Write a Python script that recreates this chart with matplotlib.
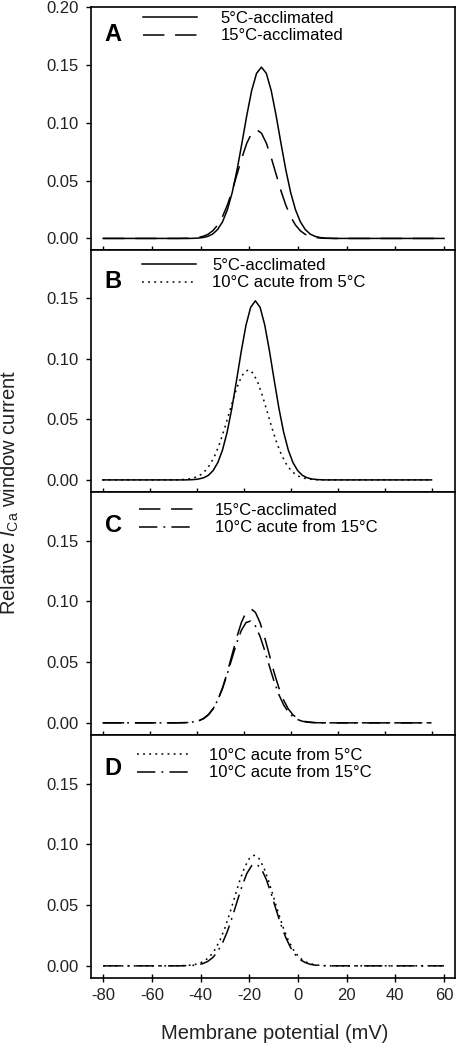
import numpy as np
import matplotlib
matplotlib.use('Agg')
import matplotlib.pyplot as plt
from matplotlib.lines import Line2D

plt.rcParams['font.family'] = ['Liberation Sans', 'DejaVu Sans']
plt.rcParams['mathtext.fontset'] = 'custom'
plt.rcParams['mathtext.rm'] = 'Liberation Sans'
plt.rcParams['mathtext.it'] = 'Liberation Sans:italic'
plt.rcParams['axes.unicode_minus'] = False

# membrane potential grids (mV)
v_odd = [-80, -49, -47, -45, -43, -41, -39, -37, -35, -33, -31, -29, -27, -25,
         -23, -21, -19, -17, -15, -13, -11, -9, -7, -5, -3, -1, 1, 3, 5, 7, 9,
         11, 13, 15, 17, 60]
v_even = [-80, -52, -50, -48, -46, -44, -42, -40, -38, -36, -34, -32, -30, -28,
          -26, -24, -22, -20, -18, -16, -14, -12, -10, -8, -6, -4, -2, 0, 2, 4,
          6, 8, 10, 12, 14, 16, 60]

# relative window current
acc5 = [0, 0, 0, 0, 0.0001, 0.0003, 0.0008, 0.0018, 0.0038, 0.0077, 0.0143,
        0.0247, 0.0397, 0.0594, 0.0825, 0.1065, 0.1279, 0.1427, 0.1480, 0.1427,
        0.1279, 0.1065, 0.0825, 0.0594, 0.0397, 0.0247, 0.0143, 0.0077, 0.0038,
        0.0018, 0.0008, 0.0003, 0.0001, 0, 0, 0]
acc15 = [0, 0, 0.0001, 0.0001, 0.0004, 0.0008, 0.0018, 0.0035, 0.0066, 0.0115,
         0.0188, 0.0288, 0.0413, 0.0556, 0.0699, 0.0824, 0.0910, 0.0940, 0.0910,
         0.0824, 0.0699, 0.0556, 0.0413, 0.0288, 0.0188, 0.0115, 0.0066, 0.0035,
         0.0018, 0.0008, 0.0004, 0.0001, 0.0001, 0, 0, 0]
acute_from15 = [0, 0, 0.0001, 0.0002, 0.0004, 0.0009, 0.0019, 0.0037, 0.0068,
                0.0117, 0.0188, 0.0283, 0.0400, 0.0529, 0.0655, 0.0760, 0.0825,
                0.0838, 0.0798, 0.0711, 0.0594, 0.0464, 0.0339, 0.0233, 0.0149,
                0.0090, 0.0050, 0.0027, 0.0013, 0.0006, 0.0003, 0.0001, 0, 0, 0, 0]
acute_from5 = [0, 0, 0, 0.0001, 0.0003, 0.0006, 0.0013, 0.0025, 0.0046, 0.0082,
               0.0136, 0.0212, 0.0312, 0.0433, 0.0565, 0.0696, 0.0808, 0.0883,
               0.0910, 0.0883, 0.0808, 0.0696, 0.0565, 0.0433, 0.0312, 0.0212,
               0.0136, 0.0082, 0.0046, 0.0025, 0.0013, 0.0006, 0.0003, 0.0001,
               0, 0, 0]

lab_acc5 = '5°C-acclimated'
lab_acc15 = '15°C-acclimated'
lab_ac5 = '10°C acute from 5°C'
lab_ac15 = '10°C acute from 15°C'

sty = {
    lab_acc5: dict(ls='-'),
    lab_acc15: dict(dashes=(14, 7)),
    lab_ac5: dict(dashes=(1.2, 2.8)),
    lab_ac15: dict(dashes=(12, 4, 1.2, 4)),
}
data = {
    lab_acc5: (v_odd, acc5),
    lab_acc15: (v_odd, acc15),
    lab_ac5: (v_even, acute_from5),
    lab_ac15: (v_odd, acute_from15),
}

panels = [
    # letter, series, ylim top, xlim right, legend anchor, textpad, letter y
    ('A', [lab_acc5, lab_acc15], 0.20, 64.5, (0.143, 0.984), 1.4, 0.885),
    ('B', [lab_acc5, lab_ac5], 0.19, 70, (0.140, 0.967), 0.95, 0.868),
    ('C', [lab_acc15, lab_ac15], 0.19, 70, (0.132, 0.955), 1.3, 0.864),
    ('D', [lab_ac5, lab_ac15], 0.19, 64.5, (0.126, 0.947), 1.1, 0.864),
]

W, H = 457, 1048
fig = plt.figure(figsize=(W / 100, H / 100), dpi=100)
tops = [7, 250, 492, 735]
bots = [250, 492, 735, 978]
left, right = 91, 455

for i, (letter, series, ytop, xr, anchor, tpad, ly) in enumerate(panels):
    ax = fig.add_axes([left / W, 1 - bots[i] / H, (right - left) / W,
                       (bots[i] - tops[i]) / H])
    for name in series:
        x, y = data[name]
        ax.plot(x, y, color='black', lw=1.1, **sty[name])
    ax.set_xlim(-85, xr)
    ax.set_ylim(-0.01, ytop)
    ax.set_xticks(np.arange(-80, 61, 20))
    if ytop > 0.195:
        ax.set_yticks([0, 0.05, 0.10, 0.15, 0.20])
    else:
        ax.set_yticks([0, 0.05, 0.10, 0.15])
    ax.yaxis.set_major_formatter(matplotlib.ticker.FormatStrFormatter('%.2f'))
    ax.tick_params(axis='x', direction='inout', length=6, width=1.0,
                   labelsize=12, pad=4, colors='black', labelcolor='#222222')
    ax.tick_params(axis='y', direction='out', length=3.6, width=1.0,
                   labelsize=12, pad=5.5, labelcolor='#222222')
    if i < 3:
        ax.tick_params(axis='x', labelbottom=False)
    for sp in ax.spines.values():
        sp.set_linewidth(1.2)

    handles = [Line2D([0], [0], color='black', lw=1.1, **sty[n]) for n in series]
    ax.legend(handles, series, loc='upper left', bbox_to_anchor=anchor,
              frameon=False, fontsize=12, handlelength=3.25,
              handletextpad=tpad, labelspacing=0.15, borderaxespad=0,
              borderpad=0)
    ax.text(0.038, ly, letter, transform=ax.transAxes, fontsize=17,
            fontweight='bold', va='center', ha='left')

fig.text(0.600, 0.0134, 'Membrane potential (mV)', ha='center', va='center',
         fontsize=14.5, color='#222222')
fig.text(0.022, 1 - 492 / H, r'Relative $\mathit{I}_{\mathrm{Ca}}$ window current',
         rotation=90, ha='center', va='center', fontsize=14.5, color='#222222')

fig.savefig('out.png', dpi=100)
